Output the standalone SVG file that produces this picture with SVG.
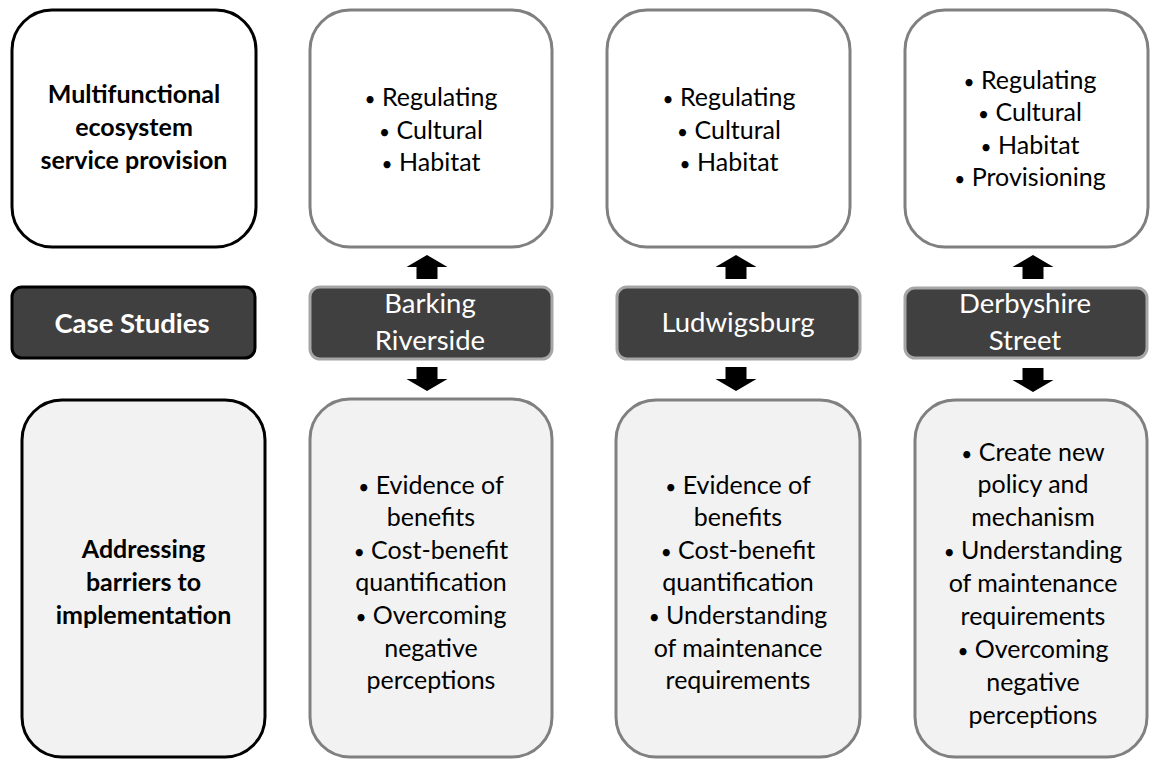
<svg xmlns="http://www.w3.org/2000/svg" width="1151" height="761" viewBox="0 0 1151 761">
<style>
.t{font-family:Lato,"Liberation Sans",sans-serif;font-size:25px;fill:#000;text-anchor:middle}
.b{font-weight:bold}
.w{fill:#fff;font-size:27.5px}
.bu{font-size:19px}
.kbox{fill:#fff;stroke:#000;stroke-width:3}
.gbox{fill:#fff;stroke:#808080;stroke-width:3}
.kfill{fill:#f2f2f2;stroke:#000;stroke-width:3}
.gfill{fill:#f2f2f2;stroke:#808080;stroke-width:3}
.dark{fill:#404040;stroke:#a6a6a6;stroke-width:3}
.darkk{fill:#404040;stroke:#000;stroke-width:3}
.arr{fill:#000}
</style>
<defs>
<path id="up" d="M -10.5 24 L -10.5 12 L -20.5 12 L 0 0 L 20.5 12 L 10.5 12 L 10.5 24 Z"/>
<path id="down" d="M -10.5 0 L 10.5 0 L 10.5 12 L 20.5 12 L 0 24 L -20.5 12 L -10.5 12 Z"/>
</defs>
<rect width="1151" height="761" fill="#fff"/>

<g id="ecosystem-label">
<rect class="kbox" x="12" y="10" width="244" height="237" rx="40"/>
<text class="t b" x="134" y="103">Multifunctional</text>
<text class="t b" x="134" y="136">ecosystem</text>
<text class="t b" x="134" y="169">service provision</text>
</g>
<g id="case-studies-label">
<rect class="darkk" x="12" y="287" width="243" height="71" rx="10"/>
<text class="t b w" x="132" y="333">Case Studies</text>
</g>
<g id="barriers-label">
<rect class="kfill" x="22" y="400" width="243" height="357" rx="40"/>
<text class="t b" x="143.5" y="558">Addressing</text>
<text class="t b" x="143.5" y="591">barriers to</text>
<text class="t b" x="143.5" y="624">implementation</text>
</g>

<g id="barking-services">
<rect class="gbox" x="310" y="10" width="242" height="237" rx="40"/>
<text class="t" x="431" y="106"><tspan class="bu">•</tspan> Regulating</text>
<text class="t" x="431" y="138.5"><tspan class="bu">•</tspan> Cultural</text>
<text class="t" x="431" y="171"><tspan class="bu">•</tspan> Habitat</text>
</g>
<g id="barking">
<rect class="dark" x="310" y="287" width="242" height="72" rx="10"/>
<text class="t w" x="430" y="313">Barking</text>
<text class="t w" x="430" y="350">Riverside</text>
</g>
<g id="barking-barriers">
<rect class="gfill" x="310" y="399" width="242" height="358" rx="40"/>
<text class="t" x="431" y="493.5"><tspan class="bu">•</tspan> Evidence of</text>
<text class="t" x="431" y="526">benefits</text>
<text class="t" x="431" y="558.7"><tspan class="bu">•</tspan> Cost-benefit</text>
<text class="t" x="431" y="591.3">quantification</text>
<text class="t" x="431" y="624"><tspan class="bu">•</tspan> Overcoming</text>
<text class="t" x="431" y="656.5">negative</text>
<text class="t" x="431" y="689">perceptions</text>
</g>

<g id="ludwigsburg-services">
<rect class="gbox" x="607" y="10" width="243" height="237" rx="40"/>
<text class="t" x="729" y="106"><tspan class="bu">•</tspan> Regulating</text>
<text class="t" x="729" y="138.5"><tspan class="bu">•</tspan> Cultural</text>
<text class="t" x="729" y="171"><tspan class="bu">•</tspan> Habitat</text>
</g>
<g id="ludwigsburg">
<rect class="dark" x="617" y="287" width="243" height="72" rx="10"/>
<text class="t w" x="738" y="332">Ludwigsburg</text>
</g>
<g id="ludwigsburg-barriers">
<rect class="gfill" x="616" y="400" width="244" height="357" rx="40"/>
<text class="t" x="738" y="493.5"><tspan class="bu">•</tspan> Evidence of</text>
<text class="t" x="738" y="526">benefits</text>
<text class="t" x="738" y="558.7"><tspan class="bu">•</tspan> Cost-benefit</text>
<text class="t" x="738" y="591.3">quantification</text>
<text class="t" x="738" y="624"><tspan class="bu">•</tspan> Understanding</text>
<text class="t" x="738" y="656.5">of maintenance</text>
<text class="t" x="738" y="689">requirements</text>
</g>

<g id="derbyshire-services">
<rect class="gbox" x="905" y="10" width="243" height="237" rx="40"/>
<text class="t" x="1030" y="88.5"><tspan class="bu">•</tspan> Regulating</text>
<text class="t" x="1030" y="121"><tspan class="bu">•</tspan> Cultural</text>
<text class="t" x="1030" y="153.5"><tspan class="bu">•</tspan> Habitat</text>
<text class="t" x="1030" y="186"><tspan class="bu">•</tspan> Provisioning</text>
</g>
<g id="derbyshire">
<rect class="dark" x="905" y="288" width="242" height="70" rx="10"/>
<text class="t w" x="1025" y="313">Derbyshire</text>
<text class="t w" x="1025" y="350">Street</text>
</g>
<g id="derbyshire-barriers">
<rect class="gfill" x="915" y="400" width="232" height="357" rx="40"/>
<text class="t" x="1033" y="460.5"><tspan class="bu">•</tspan> Create new</text>
<text class="t" x="1033" y="493.4">policy and</text>
<text class="t" x="1033" y="526.3">mechanism</text>
<text class="t" x="1033" y="559.2"><tspan class="bu">•</tspan> Understanding</text>
<text class="t" x="1033" y="592.1">of maintenance</text>
<text class="t" x="1033" y="625">requirements</text>
<text class="t" x="1033" y="657.9"><tspan class="bu">•</tspan> Overcoming</text>
<text class="t" x="1033" y="690.8">negative</text>
<text class="t" x="1033" y="723.7">perceptions</text>
</g>

<g id="connectors" class="arr">
<use href="#up" x="427" y="255"/>
<use href="#down" x="427" y="367"/>
<use href="#up" x="736" y="255"/>
<use href="#down" x="736" y="367"/>
<use href="#up" x="1033" y="255"/>
<use href="#down" x="1033" y="368"/>
</g>
</svg>
